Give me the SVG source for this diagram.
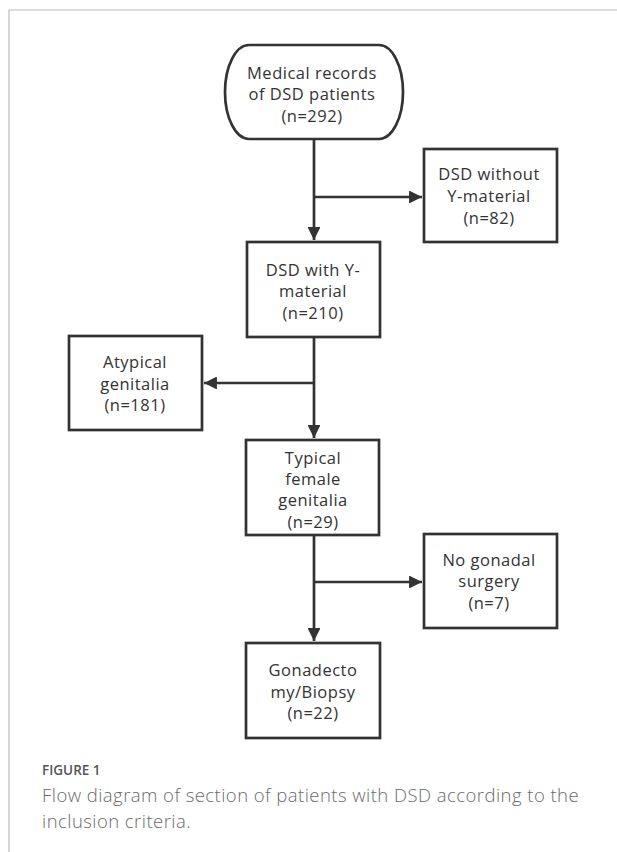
<svg xmlns="http://www.w3.org/2000/svg" width="617" height="852" viewBox="0 0 617 852">
<style>
.box{fill:#fff;stroke:#333;stroke-width:2.7}
.lbl{font-family:"Open Sans","Noto Sans",sans-serif;font-size:16.5px;fill:#333;text-anchor:middle;letter-spacing:0.5px}
.con{stroke:#333;stroke-width:2.7;fill:none}
.frame{stroke:#bbb;stroke-width:1.2;fill:none}
.cap{font-family:"Open Sans","Noto Sans",sans-serif;fill:#6a6a6a;font-weight:300;font-size:18.5px;letter-spacing:0.45px}
</style>
<defs>
<marker id="arr" viewBox="0 0 10 10" refX="10" refY="5" markerWidth="6.8" markerHeight="4.8" markerUnits="strokeWidth" orient="auto">
<path d="M0,0 L10,5 L0,10 z" fill="#333"/>
</marker>
</defs>
<rect width="617" height="852" fill="#fff"/>
<path class="frame" d="M9,852 V10 H617"/>
<g id="connectors">
<path class="con" d="M314,139 V240" marker-end="url(#arr)"/>
<path class="con" d="M314,197 H422" marker-end="url(#arr)"/>
<path class="con" d="M314,337 V438" marker-end="url(#arr)"/>
<path class="con" d="M314,383 H204" marker-end="url(#arr)"/>
<path class="con" d="M314,535 V641" marker-end="url(#arr)"/>
<path class="con" d="M314,582 H422" marker-end="url(#arr)"/>
</g>
<g id="start">
<rect class="box" x="225" y="45" width="178" height="94" rx="24" ry="47"/>
<text class="lbl" x="312" y="79">Medical records</text>
<text class="lbl" x="312" y="100">of DSD patients</text>
<text class="lbl" x="312" y="122">(n=292)</text>
</g>
<g id="without">
<rect class="box" x="424" y="149" width="133" height="93"/>
<text class="lbl" x="489" y="180">DSD without</text>
<text class="lbl" x="489" y="202">Y-material</text>
<text class="lbl" x="489" y="224">(n=82)</text>
</g>
<g id="with">
<rect class="box" x="247" y="242" width="133" height="95"/>
<text class="lbl" x="313" y="276">DSD with Y-</text>
<text class="lbl" x="313" y="297">material</text>
<text class="lbl" x="313" y="319">(n=210)</text>
</g>
<g id="atypical">
<rect class="box" x="69" y="336" width="133" height="94"/>
<text class="lbl" x="135" y="368">Atypical</text>
<text class="lbl" x="135" y="390">genitalia</text>
<text class="lbl" x="135" y="411">(n=181)</text>
</g>
<g id="typical">
<rect class="box" x="246" y="440" width="133" height="95"/>
<text class="lbl" x="313" y="464">Typical</text>
<text class="lbl" x="313" y="485">female</text>
<text class="lbl" x="313" y="506">genitalia</text>
<text class="lbl" x="313" y="528">(n=29)</text>
</g>
<g id="nosurgery">
<rect class="box" x="424" y="534" width="133" height="94"/>
<text class="lbl" x="489" y="566">No gonadal</text>
<text class="lbl" x="489" y="587">surgery</text>
<text class="lbl" x="489" y="609">(n=7)</text>
</g>
<g id="gonadectomy">
<rect class="box" x="246" y="643" width="134" height="95"/>
<text class="lbl" x="313" y="676">Gonadecto</text>
<text class="lbl" x="313" y="698">my/Biopsy</text>
<text class="lbl" x="313" y="719">(n=22)</text>
</g>
<g id="caption">
<text x="42" y="775" font-family="Open Sans, Noto Sans, sans-serif" font-size="13.5" font-weight="600" fill="#555">FIGURE 1</text>
<text class="cap" x="42" y="802">Flow diagram of section of patients with DSD according to the</text>
<text class="cap" x="42" y="828">inclusion criteria.</text>
</g>
</svg>
